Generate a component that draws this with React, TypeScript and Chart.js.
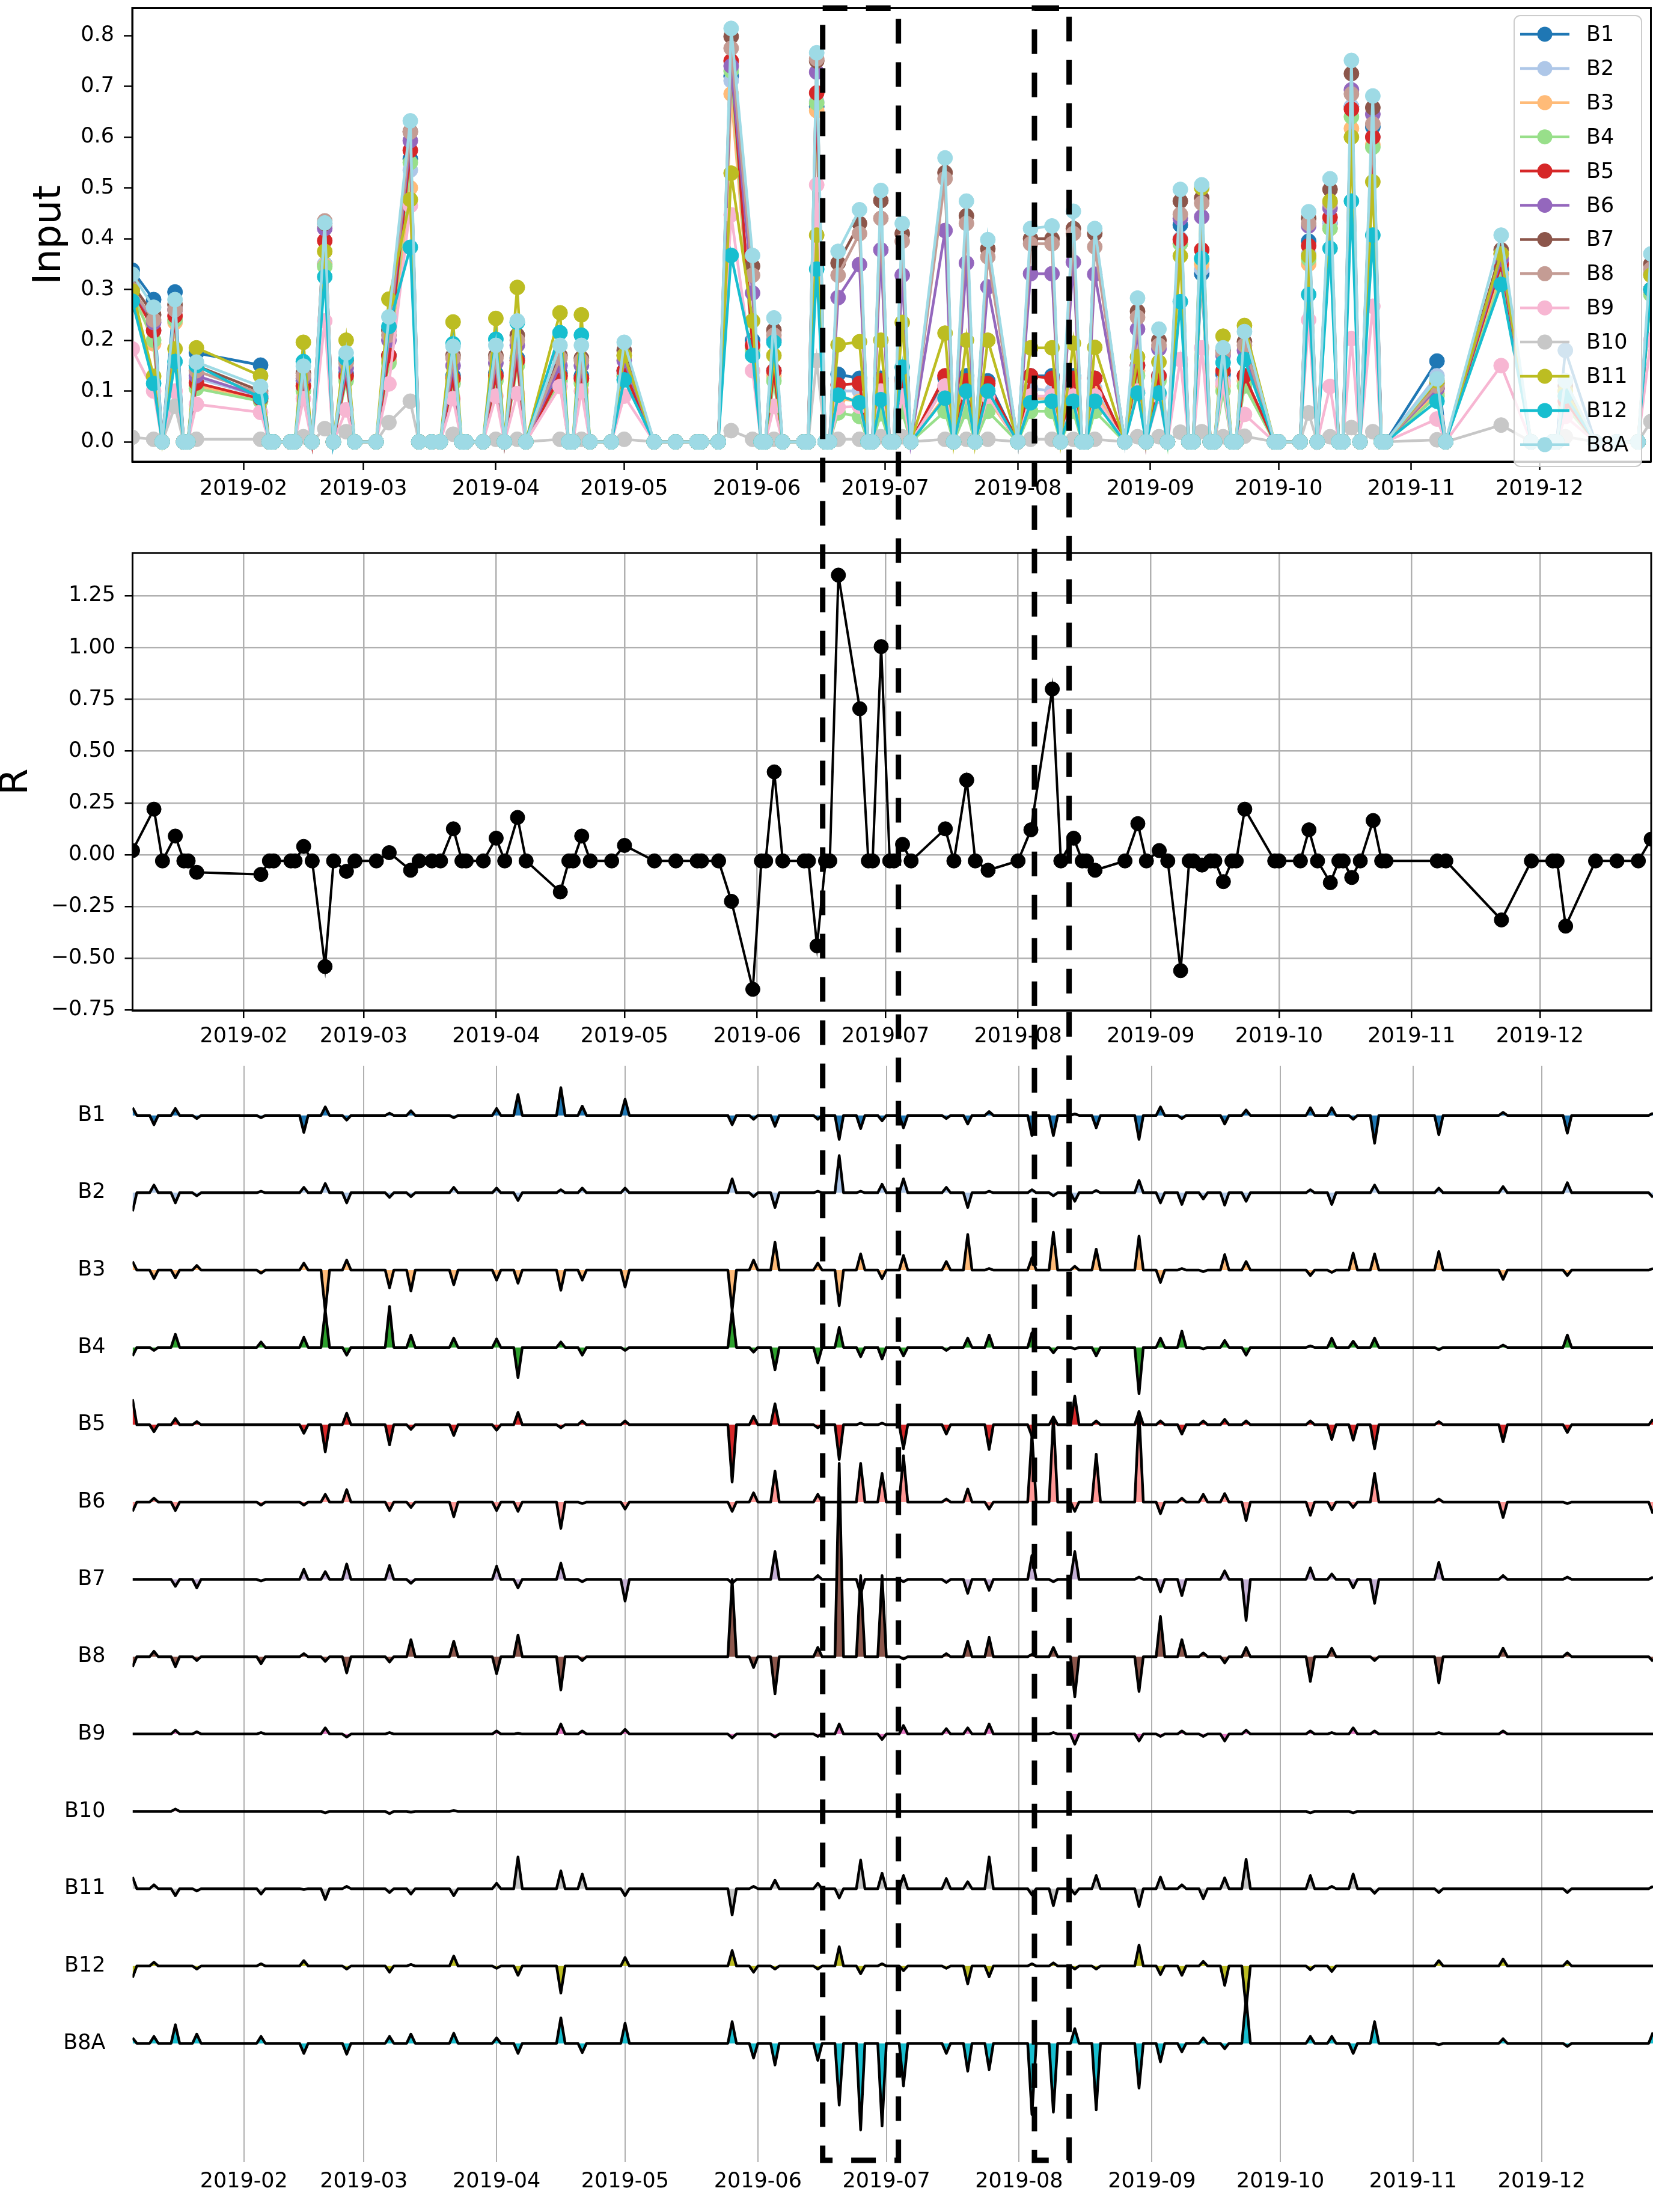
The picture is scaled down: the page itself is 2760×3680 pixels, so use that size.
import React, { useEffect, useRef } from 'react';
import { Chart, registerables } from 'chart.js';

Chart.register(...registerables);

// ---------------- data ----------------
// acquisition days (days after 2019-01-01)
const ALL_DAYS = [
  5, 10, 12, 15, 17, 18, 20,
  35, 37, 38, 42, 43, 45, 47, 50, 52, 55, 57,
  62, 65, 70, 72, 75, 77, 80, 82, 83, 87, 90, 92, 95, 97,
  105, 107, 108, 110, 112, 117, 120, 127,
  132, 137, 138, 142, 145, 150, 152, 153, 155, 157,
  162, 163, 165, 167, 168, 170, 175, 177, 178, 180, 182, 183, 185, 187,
  195, 197, 200, 202, 205, 212, 215, 220, 222, 225, 227, 228, 230,
  237, 240, 242, 245, 247, 250, 252, 253, 255, 257, 258, 260, 262, 263, 265,
  272, 273, 278, 280, 282, 285, 287, 288, 290, 292, 295, 297, 298,
  310, 312, 325, 332, 337, 338, 340, 347, 352, 357, 360,
];

const R_VALUES = [
  0.02, 0.22, -0.03, 0.09, -0.03, -0.03, -0.085,
  -0.095, -0.03, -0.03, -0.03, -0.03, 0.04, -0.03, -0.54, -0.03, -0.08, -0.03,
  -0.03, 0.01, -0.075, -0.03, -0.03, -0.03, 0.125, -0.03, -0.03, -0.03, 0.08, -0.03, 0.18, -0.03,
  -0.18, -0.03, -0.03, 0.09, -0.03, -0.03, 0.045, -0.03,
  -0.03, -0.03, -0.03, -0.03, -0.225, -0.65, -0.03, -0.03, 0.4, -0.03,
  -0.03, -0.03, -0.44, -0.03, -0.03, 1.35, 0.705, -0.03, -0.03, 1.005, -0.03, -0.03, 0.05, -0.03,
  0.125, -0.03, 0.36, -0.03, -0.075, -0.03, 0.12, 0.8, -0.03, 0.08, -0.03, -0.03, -0.075,
  -0.03, 0.15, -0.03, 0.02, -0.03, -0.56, -0.03, -0.03, -0.05, -0.03, -0.03, -0.13, -0.03, -0.03, 0.22,
  -0.03, -0.03, -0.03, 0.12, -0.03, -0.135, -0.03, -0.03, -0.11, -0.03, 0.165, -0.03, -0.03,
  -0.03, -0.03, -0.315, -0.03, -0.03, -0.03, -0.345, -0.03, -0.03, -0.03, 0.075,
];

// cloud-free acquisitions (all other days are masked -> input 0)
const CLEAR_DAYS = [
  5, 10, 15, 20, 35, 45, 50, 55, 65, 70, 80, 90, 95, 105, 110,
  120, 145, 150, 155, 165, 170, 175, 180, 185, 195, 200, 205, 215, 220, 225,
  230, 240, 245, 250, 255, 260, 265, 280, 285, 290, 295, 310, 325, 340, 360,
];
const MASKED_INPUT = 0;
const NO_RELEVANCE = 0;

const BANDS = ['B1', 'B2', 'B3', 'B4', 'B5', 'B6', 'B7', 'B8', 'B9', 'B10', 'B11', 'B12', 'B8A'];

const IN_B1 = [0.338, 0.28, 0.295, 0.175, 0.151, 0.12, 0.35, 0.135, 0.17, 0.557, 0.13, 0.135, 0.165, 0.135, 0.13, 0.14, 0.72, 0.2, 0.14, 0.66, 0.133, 0.125, 0.125, 0.125, 0.125, 0.13, 0.12, 0.13, 0.13, 0.13, 0.125, 0.15, 0.13, 0.427, 0.331, 0.133, 0.13, 0.395, 0.43, 0.66, 0.62, 0.159, 0.34, 0.18, 0.3];
const IN_B2 = [0.31, 0.22, 0.26, 0.125, 0.09, 0.115, 0.35, 0.13, 0.165, 0.535, 0.125, 0.13, 0.16, 0.13, 0.125, 0.135, 0.711, 0.19, 0.135, 0.67, 0.1, 0.1, 0.1, 0.105, 0.11, 0.105, 0.1, 0.105, 0.1, 0.105, 0.105, 0.14, 0.13, 0.4, 0.34, 0.12, 0.12, 0.37, 0.43, 0.66, 0.6, 0.13, 0.33, 0.12, 0.3];
const IN_B3 = [0.3, 0.193, 0.235, 0.11, 0.085, 0.11, 0.347, 0.125, 0.16, 0.5, 0.12, 0.125, 0.155, 0.125, 0.12, 0.13, 0.685, 0.185, 0.13, 0.652, 0.085, 0.08, 0.085, 0.09, 0.09, 0.085, 0.085, 0.085, 0.085, 0.09, 0.1, 0.14, 0.125, 0.39, 0.35, 0.11, 0.12, 0.35, 0.42, 0.617, 0.585, 0.095, 0.33, 0.09, 0.3];
const IN_B4 = [0.29, 0.2, 0.24, 0.105, 0.08, 0.1, 0.345, 0.12, 0.155, 0.55, 0.115, 0.12, 0.15, 0.12, 0.115, 0.13, 0.73, 0.18, 0.12, 0.667, 0.057, 0.05, 0.055, 0.06, 0.06, 0.06, 0.06, 0.06, 0.06, 0.06, 0.06, 0.13, 0.12, 0.39, 0.36, 0.1, 0.11, 0.36, 0.42, 0.64, 0.58, 0.09, 0.32, 0.07, 0.29];
const IN_B5 = [0.3, 0.219, 0.248, 0.116, 0.085, 0.11, 0.396, 0.13, 0.17, 0.574, 0.125, 0.13, 0.16, 0.13, 0.125, 0.14, 0.75, 0.19, 0.14, 0.687, 0.112, 0.115, 0.12, 0.12, 0.13, 0.12, 0.115, 0.13, 0.125, 0.125, 0.125, 0.151, 0.13, 0.398, 0.378, 0.14, 0.13, 0.386, 0.442, 0.655, 0.6, 0.105, 0.35, 0.08, 0.3];
const IN_B6 = [0.3, 0.235, 0.26, 0.13, 0.09, 0.125, 0.42, 0.145, 0.2, 0.593, 0.15, 0.155, 0.19, 0.15, 0.15, 0.16, 0.74, 0.293, 0.2, 0.728, 0.284, 0.349, 0.378, 0.328, 0.416, 0.352, 0.305, 0.331, 0.331, 0.354, 0.33, 0.222, 0.183, 0.44, 0.443, 0.17, 0.18, 0.425, 0.46, 0.693, 0.645, 0.105, 0.36, 0.1, 0.33];
const IN_B7 = [0.31, 0.25, 0.27, 0.15, 0.1, 0.135, 0.43, 0.16, 0.22, 0.611, 0.17, 0.17, 0.21, 0.17, 0.165, 0.18, 0.798, 0.346, 0.22, 0.75, 0.352, 0.43, 0.475, 0.41, 0.53, 0.445, 0.38, 0.4, 0.4, 0.42, 0.41, 0.257, 0.2, 0.474, 0.48, 0.18, 0.197, 0.44, 0.497, 0.725, 0.658, 0.115, 0.378, 0.11, 0.35];
const IN_B8 = [0.3, 0.24, 0.26, 0.14, 0.095, 0.13, 0.435, 0.155, 0.21, 0.61, 0.165, 0.165, 0.2, 0.165, 0.16, 0.17, 0.775, 0.328, 0.21, 0.754, 0.328, 0.41, 0.44, 0.395, 0.518, 0.43, 0.364, 0.39, 0.39, 0.41, 0.384, 0.245, 0.19, 0.448, 0.47, 0.175, 0.19, 0.43, 0.47, 0.685, 0.626, 0.11, 0.37, 0.1, 0.34];
const IN_B9 = [0.183, 0.1, 0.1, 0.074, 0.058, 0.085, 0.238, 0.063, 0.114, 0.465, 0.085, 0.09, 0.095, 0.109, 0.1, 0.09, 0.447, 0.14, 0.07, 0.506, 0.068, 0.07, 0.1, 0.09, 0.11, 0.095, 0.09, 0.09, 0.09, 0.09, 0.09, 0.1, 0.09, 0.162, 0.185, 0.115, 0.054, 0.24, 0.109, 0.203, 0.267, 0.045, 0.15, 0.05, 0.2];
const IN_B10 = [0.009, 0.005, 0.07, 0.005, 0.005, 0.01, 0.026, 0.02, 0.038, 0.08, 0.015, 0.005, 0.005, 0.005, 0.005, 0.005, 0.022, 0.005, 0.005, 0.16, 0.005, 0.005, 0.01, 0.01, 0.005, 0.005, 0.005, 0.005, 0.005, 0.005, 0.005, 0.01, 0.01, 0.019, 0.02, 0.01, 0.011, 0.057, 0.01, 0.028, 0.02, 0.004, 0.033, 0.01, 0.04];
const IN_B11 = [0.297, 0.129, 0.183, 0.185, 0.13, 0.196, 0.375, 0.2, 0.281, 0.477, 0.236, 0.243, 0.304, 0.254, 0.25, 0.17, 0.529, 0.238, 0.17, 0.407, 0.191, 0.197, 0.2, 0.235, 0.214, 0.2, 0.2, 0.185, 0.185, 0.194, 0.186, 0.167, 0.157, 0.366, 0.5, 0.208, 0.229, 0.366, 0.474, 0.6, 0.512, 0.12, 0.37, 0.1, 0.328];
const IN_B12 = [0.277, 0.115, 0.158, 0.15, 0.087, 0.158, 0.325, 0.164, 0.227, 0.383, 0.193, 0.202, 0.235, 0.215, 0.21, 0.122, 0.367, 0.17, 0.196, 0.34, 0.092, 0.077, 0.083, 0.147, 0.086, 0.1, 0.1, 0.077, 0.08, 0.08, 0.08, 0.096, 0.096, 0.276, 0.361, 0.156, 0.162, 0.29, 0.381, 0.474, 0.407, 0.08, 0.31, 0.09, 0.3];
const IN_B8A = [0.33, 0.265, 0.28, 0.157, 0.109, 0.149, 0.431, 0.175, 0.246, 0.632, 0.188, 0.19, 0.238, 0.19, 0.19, 0.196, 0.814, 0.367, 0.244, 0.766, 0.375, 0.457, 0.495, 0.43, 0.559, 0.474, 0.398, 0.42, 0.425, 0.454, 0.42, 0.283, 0.222, 0.497, 0.506, 0.185, 0.217, 0.453, 0.518, 0.751, 0.681, 0.124, 0.407, 0.12, 0.37];

// relevance per band at the clear days (in units of one row of the lower panel)
const A_B1 = [0.1, -0.12, 0.09, -0.04, -0.03, -0.22, 0.11, -0.06, 0.03, 0.06, -0.03, 0.09, 0.27, 0.36, 0.12, 0.21, -0.12, -0.05, -0.14, -0.05, -0.31, -0.17, -0.07, -0.16, -0.04, -0.11, 0.05, -0.26, -0.26, 0.02, -0.16, -0.31, 0.11, -0.04, 0, -0.11, 0.07, 0.1, 0.1, -0.05, -0.36, -0.25, 0.04, -0.23, 0.03];
const A_B2 = [-0.24, 0.1, -0.13, -0.04, 0.02, 0.07, 0.12, -0.13, -0.06, -0.05, 0.07, 0.06, -0.1, 0.04, 0.06, 0.06, 0.18, -0.05, -0.19, 0.02, 0.48, 0.02, 0.11, 0.18, 0.07, -0.19, 0.02, 0.04, -0.04, -0.11, 0.03, 0.16, -0.13, -0.15, -0.08, -0.16, -0.11, 0.04, -0.15, 0, 0.1, 0.06, 0.08, 0.13, -0.06];
const A_B3 = [0.11, -0.11, -0.1, 0.06, -0.04, 0.09, -0.53, 0.13, -0.23, -0.27, -0.19, -0.13, -0.17, -0.26, -0.13, -0.22, -0.52, 0.13, 0.36, 0.09, -0.46, 0.21, -0.11, 0.19, 0.11, 0.46, 0.02, 0.16, 0.49, 0.05, 0.27, 0.44, -0.16, 0.02, -0.02, 0.2, 0.11, -0.07, -0.03, 0.22, 0.21, 0.24, -0.12, -0.07, 0.02];
const A_B4 = [-0.11, -0.04, 0.17, 0, 0.07, 0.13, 0.48, -0.1, 0.53, 0.16, 0.12, 0.11, -0.39, 0.07, -0.1, -0.04, 0.48, -0.06, -0.29, -0.2, 0.26, -0.12, -0.15, -0.11, -0.04, 0.12, 0.16, 0.19, -0.07, -0.02, -0.11, -0.6, 0.12, 0.21, -0.02, 0.09, -0.1, 0.02, 0.12, 0.08, 0.12, -0.03, 0.03, 0.16, 0];
const A_B5 = [0.33, -0.09, 0.08, 0.04, 0, -0.11, -0.35, 0.15, -0.26, -0.06, -0.14, -0.07, 0.16, -0.04, 0.05, 0.05, -0.74, 0.11, 0.27, -0.04, -0.45, 0.02, 0.02, -0.31, -0.12, 0, -0.32, -0.15, 0.1, 0.37, 0.05, 0.17, 0.05, -0.12, 0.05, 0.07, 0.05, 0.05, -0.19, -0.2, -0.31, 0.04, -0.22, -0.1, 0.07];
const A_B6 = [-0.12, 0.05, -0.11, 0, -0.04, -0.04, 0.1, 0.16, -0.11, -0.07, -0.19, -0.11, -0.12, -0.34, -0.02, -0.09, -0.12, 0.12, 0.4, 0.1, 0, 0.5, 0.37, 0.6, 0.04, 0.17, -0.09, 0.87, 1.1, -0.12, 0.62, 1.17, -0.15, 0.05, 0.1, 0.11, -0.24, -0.17, -0.1, -0.07, 0.37, 0.04, -0.2, -0.02, -0.15];
const A_B7 = [0, 0, -0.09, -0.11, -0.02, 0.13, 0.1, 0.2, 0.18, -0.05, 0, 0.17, -0.11, 0.21, -0.03, -0.28, -0.05, 0, 0.36, 0.05, 0, -0.19, 0, -0.03, -0.04, -0.18, -0.14, 0.31, -0.03, 0.36, 0, 0.03, -0.16, -0.21, 0, 0.11, -0.53, 0.15, 0.07, -0.11, -0.31, 0.22, 0.05, 0.03, 0.03];
const A_B8 = [-0.13, 0.07, -0.13, -0.05, -0.09, 0.04, -0.06, -0.21, -0.07, 0.22, 0.2, -0.22, 0.28, -0.43, -0.05, 0, 1.0, -0.14, -0.48, 0.12, 2.5, 1.05, 1.05, -0.03, 0.04, 0.2, 0.25, 0.03, 0.12, -0.52, 0, -0.45, 0.52, 0.22, 0.05, -0.08, 0.12, -0.32, 0.11, 0, -0.05, -0.34, 0.11, 0.05, -0.06];
const A_B9 = [0, 0, 0.05, 0.03, 0.02, 0, 0.08, -0.04, 0.02, 0, 0, 0.04, 0.01, 0.13, 0.04, 0.06, -0.05, 0, -0.04, -0.03, 0.13, 0, -0.07, 0.11, 0.07, 0.08, 0.13, 0, 0.02, -0.13, 0, -0.09, -0.03, 0.04, -0.03, -0.09, 0.05, 0.04, 0.02, 0.08, 0.04, 0.02, 0.04, 0, 0];
const A_B10 = [0, 0, 0.03, 0, 0, 0, -0.02, 0, -0.03, -0.01, 0.01, 0, 0, 0, 0, 0, 0, 0, 0, 0, 0, 0, 0, 0, 0, 0, 0, 0, 0, 0, 0, 0, 0, 0, 0, 0, 0, -0.02, 0, -0.02, 0, 0, 0, 0, 0];
const A_B11 = [0.15, 0.05, -0.09, -0.03, -0.07, -0.01, -0.14, 0.03, -0.05, -0.07, -0.09, 0.07, 0.41, 0.23, 0.19, -0.09, -0.34, 0.03, 0.11, 0.07, -0.12, 0.37, 0.2, 0.17, 0.13, 0.09, 0.41, -0.08, -0.22, -0.07, 0.17, -0.23, 0.15, 0.05, -0.13, 0.14, 0.38, 0.17, 0.03, 0.19, -0.06, -0.05, 0, -0.05, 0.03];
const A_B12 = [-0.15, 0.05, 0, -0.04, 0.03, 0.07, 0, -0.04, -0.08, 0.02, 0.13, -0.03, -0.12, -0.35, 0, 0.11, 0.2, -0.08, -0.04, -0.04, 0.25, -0.1, 0.03, -0.06, -0.03, -0.23, -0.14, 0.03, 0.04, -0.04, -0.04, 0.27, -0.11, -0.12, 0.06, -0.25, -0.55, -0.05, -0.07, 0, 0, 0.07, 0.09, 0.06, 0];
const A_B8A = [0.07, 0.09, 0.24, 0.12, 0.09, -0.13, 0, -0.14, 0.09, 0.12, 0.13, 0.07, -0.13, 0.33, -0.12, 0.26, 0.28, -0.19, -0.28, -0.22, -0.8, -1.12, -1.07, -0.55, -0.13, -0.36, -0.34, -0.92, -0.89, 0.19, -0.86, -0.58, -0.24, -0.11, 0.07, -0.07, 0.58, 0.09, 0.09, -0.13, 0.28, -0.02, 0.06, -0.04, 0.14];

const INPUT_VALUES = [IN_B1, IN_B2, IN_B3, IN_B4, IN_B5, IN_B6, IN_B7, IN_B8, IN_B9, IN_B10, IN_B11, IN_B12, IN_B8A];
const ATTR_VALUES = [A_B1, A_B2, A_B3, A_B4, A_B5, A_B6, A_B7, A_B8, A_B9, A_B10, A_B11, A_B12, A_B8A];

const INPUT_COLORS = ['#1f77b4', '#aec7e8', '#ffbb78', '#98df8a', '#d62728', '#9467bd', '#8c564b', '#c49c94', '#f7b6d2', '#c7c7c7', '#bcbd22', '#17becf', '#9edae5'];
const ATTR_COLORS = ['#1f77b4', '#aec7e8', '#ffbb78', '#2ca02c', '#d62728', '#ff9896', '#c5b0d5', '#8c564b', '#e377c2', '#f7b6d2', '#c7c7c7', '#bcbd22', '#17becf'];

const MONTH_TICKS = [31, 59, 90, 120, 151, 181, 212, 243, 273, 304, 334];
const MONTH_LABELS = ['2019-02', '2019-03', '2019-04', '2019-05', '2019-06', '2019-07', '2019-08', '2019-09', '2019-10', '2019-11', '2019-12'];
const INPUT_TICKS = [0, 0.1, 0.2, 0.3, 0.4, 0.5, 0.6, 0.7, 0.8];
const R_TICKS = [-0.75, -0.5, -0.25, 0, 0.25, 0.5, 0.75, 1.0, 1.25];
const HIGHLIGHT_WINDOWS = [[166.4, 184.1], [215.9, 224.0]];

// ---------------- helpers ----------------
const FONT = "'DejaVu Sans', 'Liberation Sans', sans-serif";
const X_MIN = 5;
const X_MAX = 360;

// the relevance signal lives on a daily time grid
const DAILY_GRID: number[] = [];
for (let d = X_MIN; d <= X_MAX; d++) DAILY_GRID.push(d);

function onDays(days: number[], vals: number[], fallback: number) {
  return days.map((d) => {
    const k = CLEAR_DAYS.indexOf(d);
    return { x: d, y: k >= 0 ? vals[k] : fallback };
  });
}

function zeroPad(s: any) {
  s.paddingTop = 0;
  s.paddingBottom = 0;
  s.paddingLeft = 0;
  s.paddingRight = 0;
}

function monthAxis(height: number, opts: any) {
  return {
    type: 'linear',
    min: X_MIN,
    max: X_MAX,
    afterBuildTicks: (s: any) => {
      s.ticks = MONTH_TICKS.map((v) => ({ value: v }));
    },
    afterFit: (s: any) => {
      s.height = height;
      zeroPad(s);
    },
    ticks: {
      autoSkip: false,
      maxRotation: 0,
      minRotation: 0,
      color: '#000',
      font: { size: 35, family: FONT },
      padding: opts.padding,
      callback: (v: number) => {
        const i = MONTH_TICKS.indexOf(Math.round(v));
        return i >= 0 ? MONTH_LABELS[i] : '';
      },
    },
    grid: opts.grid,
    border: opts.border,
  };
}

const framePlugin = {
  id: 'frame',
  afterDatasetsDraw(chart: any) {
    const { ctx, chartArea: a } = chart;
    ctx.save();
    ctx.strokeStyle = '#000';
    ctx.lineWidth = 3;
    ctx.strokeRect(a.left, a.top, a.right - a.left, a.bottom - a.top);
    ctx.restore();
  },
};

const legendPlugin = {
  id: 'bandLegend',
  afterDraw(chart: any) {
    const { ctx } = chart;
    ctx.save();
    const bx = 2519, by = 26, bw = 212, bh = 750;
    ctx.beginPath();
    ctx.roundRect(bx, by, bw, bh, 10);
    ctx.fillStyle = 'rgba(255,255,255,0.8)';
    ctx.fill();
    ctx.strokeStyle = '#cccccc';
    ctx.lineWidth = 2;
    ctx.stroke();
    BANDS.forEach((b, i) => {
      const cy = 57 + i * 56.9;
      const c = INPUT_COLORS[i];
      ctx.strokeStyle = c;
      ctx.lineWidth = 4.5;
      ctx.beginPath();
      ctx.moveTo(2529, cy);
      ctx.lineTo(2611, cy);
      ctx.stroke();
      ctx.fillStyle = c;
      ctx.beginPath();
      ctx.arc(2570, cy, 12.5, 0, Math.PI * 2);
      ctx.fill();
      ctx.fillStyle = '#000';
      ctx.font = `35px ${FONT}`;
      ctx.textBaseline = 'middle';
      ctx.textAlign = 'left';
      ctx.fillText(b, 2639, cy + 2);
    });
    ctx.restore();
  },
};

const baseOptions = {
  responsive: false,
  animation: false as const,
  devicePixelRatio: 1,
  events: [] as any[],
  plugins: { legend: { display: false }, tooltip: { enabled: false } },
};

export default function App() {
  const c1 = useRef<HTMLCanvasElement>(null);
  const c2 = useRef<HTMLCanvasElement>(null);
  const c3 = useRef<HTMLCanvasElement>(null);
  const ov = useRef<HTMLCanvasElement>(null);

  useEffect(() => {
    Chart.defaults.font.family = FONT;
    Chart.defaults.color = '#000';

    // ---------- top panel: Input ----------
    const ch1 = new Chart(c1.current as HTMLCanvasElement, {
      type: 'line',
      data: {
        datasets: BANDS.map((b, i) => ({
          label: b,
          data: onDays(ALL_DAYS, INPUT_VALUES[i], MASKED_INPUT),
          borderColor: INPUT_COLORS[i],
          backgroundColor: INPUT_COLORS[i],
          pointBackgroundColor: INPUT_COLORS[i],
          pointBorderColor: INPUT_COLORS[i],
          borderWidth: 4.5,
          pointRadius: 12.5,
          pointBorderWidth: 1,
          tension: 0,
          fill: false,
          order: BANDS.length - 1 - i,
          clip: 0,
        })),
      },
      options: {
        ...baseOptions,
        layout: { padding: { left: 0, top: 6.6, right: 9, bottom: 0 } },
        scales: {
          x: monthAxis(92, {
            padding: 11,
            grid: { drawOnChartArea: false, drawTicks: true, tickLength: 14, tickColor: '#000', tickWidth: 2.5 },
            border: { display: true, color: '#000', width: 3 },
          }),
          y: {
            type: 'linear',
            min: -0.039,
            max: 0.854,
            afterBuildTicks: (s: any) => {
              s.ticks = INPUT_TICKS.map((v) => ({ value: v }));
            },
            afterFit: (s: any) => {
              s.width = 220;
              zeroPad(s);
            },
            ticks: {
              color: '#000',
              font: { size: 35, family: FONT },
              padding: 16,
              callback: (v: number) => v.toFixed(1),
            },
            grid: { drawOnChartArea: false, drawTicks: true, tickLength: 14, tickColor: '#000', tickWidth: 2.5 },
            border: { display: true, color: '#000', width: 3 },
            title: {
              display: true,
              text: 'Input',
              color: '#000',
              font: { size: 64, lineHeight: 0.9, family: FONT },
              padding: { top: 55, bottom: 0 },
            },
          },
        },
      } as any,
      plugins: [framePlugin, legendPlugin],
    });

    // ---------- middle panel: R ----------
    const ch2 = new Chart(c2.current as HTMLCanvasElement, {
      type: 'line',
      data: {
        datasets: [
          {
            label: 'R',
            data: ALL_DAYS.map((d, i) => ({ x: d, y: R_VALUES[i] })),
            borderColor: '#000',
            backgroundColor: '#000',
            pointBackgroundColor: '#000',
            pointBorderColor: '#000',
            borderWidth: 4,
            pointRadius: 12,
            pointBorderWidth: 1,
            tension: 0,
            fill: false,
            clip: 0,
          },
        ],
      },
      options: {
        ...baseOptions,
        layout: { padding: { left: 0, top: 60, right: 10, bottom: 0 } },
        scales: {
          x: monthAxis(79, {
            padding: 9.5,
            grid: { drawOnChartArea: true, color: '#b0b0b0', lineWidth: 2.5, drawTicks: true, tickLength: 13, tickColor: '#000', tickWidth: 2.5 },
            border: { display: true, color: '#000', width: 3 },
          }),
          y: {
            type: 'linear',
            min: -0.752,
            max: 1.457,
            afterBuildTicks: (s: any) => {
              s.ticks = R_TICKS.map((v) => ({ value: v }));
            },
            afterFit: (s: any) => {
              s.width = 220.5;
              zeroPad(s);
            },
            ticks: {
              color: '#000',
              font: { size: 35, family: FONT },
              padding: 15.5,
              callback: (v: number) => (v < 0 ? '\u2212' : '') + Math.abs(v).toFixed(2),
            },
            grid: { drawOnChartArea: true, color: '#b0b0b0', lineWidth: 2.5, drawTicks: true, tickLength: 13, tickColor: '#000', tickWidth: 2.5 },
            border: { display: true, color: '#000', width: 3 },
            title: {
              display: true,
              text: 'R',
              color: '#000',
              font: { size: 64, lineHeight: 0.9, family: FONT },
              padding: { top: 0, bottom: 0 },
            },
          },
        },
      } as any,
      plugins: [framePlugin],
    });

    // ---------- bottom panel: relevance ridges ----------
    const ch3 = new Chart(c3.current as HTMLCanvasElement, {
      type: 'line',
      data: {
        datasets: BANDS.map((b, i) => ({
          label: b,
          data: onDays(DAILY_GRID, ATTR_VALUES[i], NO_RELEVANCE).map((p) => ({ x: p.x, y: p.y - i })),
          borderColor: '#000',
          backgroundColor: ATTR_COLORS[i],
          borderWidth: 4.5,
          borderJoinStyle: 'round',
          pointRadius: 0,
          tension: 0,
          fill: { value: -i },
          order: BANDS.length - 1 - i,
          clip: 0,
        })),
      },
      options: {
        ...baseOptions,
        layout: { padding: { left: 0, top: 13, right: 10, bottom: 0 } },
        scales: {
          x: monthAxis(83, {
            padding: 12,
            grid: { drawOnChartArea: true, color: '#b0b0b0', lineWidth: 2, drawTicks: false },
            border: { display: false },
          }),
          y: {
            type: 'linear',
            min: -13.536,
            max: 0.643,
            afterBuildTicks: (s: any) => {
              s.ticks = BANDS.map((_, i) => ({ value: -(BANDS.length - 1 - i) }));
            },
            afterFit: (s: any) => {
              s.width = 220.5;
              zeroPad(s);
            },
            ticks: {
              color: '#000',
              font: { size: 35, family: FONT },
              padding: 37,
              callback: (v: number) => BANDS[Math.round(-v)] ?? '',
            },
            grid: { display: false },
            border: { display: false },
          },
        },
      } as any,
    });

    // ---------- dashed highlight windows across all panels ----------
    const ovc = ov.current as HTMLCanvasElement;
    const ctx = ovc.getContext('2d') as CanvasRenderingContext2D;
    ctx.clearRect(0, 0, ovc.width, ovc.height);
    const xs: any = ch1.scales.x;
    const top = ch1.chartArea.top;
    const bottom = 1760 + ch3.chartArea.bottom - 3;
    ctx.save();
    ctx.strokeStyle = '#000';
    ctx.lineWidth = 9;
    ctx.setLineDash([41, 31]);
    ctx.lineCap = 'butt';
    HIGHLIGHT_WINDOWS.forEach(([a, b]) => {
      const x0 = xs.getPixelForValue(a);
      const x1 = xs.getPixelForValue(b);
      ctx.beginPath();
      ctx.moveTo(x0, top);
      ctx.lineTo(x1, top);
      ctx.lineTo(x1, bottom);
      ctx.lineTo(x0, bottom);
      ctx.closePath();
      ctx.stroke();
    });
    ctx.restore();

    return () => {
      ch1.destroy();
      ch2.destroy();
      ch3.destroy();
    };
  }, []);

  return (
    <div style={{ position: 'absolute', left: 0, top: 0, width: 2760, height: 3680, background: '#fff' }}>
      <canvas ref={c1} width={2760} height={860} style={{ position: 'absolute', left: 0, top: 0, width: 2760, height: 860 }} />
      <canvas ref={c2} width={2760} height={900} style={{ position: 'absolute', left: 0, top: 860, width: 2760, height: 900 }} />
      <canvas ref={c3} width={2760} height={1920} style={{ position: 'absolute', left: 0, top: 1760, width: 2760, height: 1920 }} />
      <canvas ref={ov} width={2760} height={3680} style={{ position: 'absolute', left: 0, top: 0, width: 2760, height: 3680, pointerEvents: 'none' }} />
    </div>
  );
}
